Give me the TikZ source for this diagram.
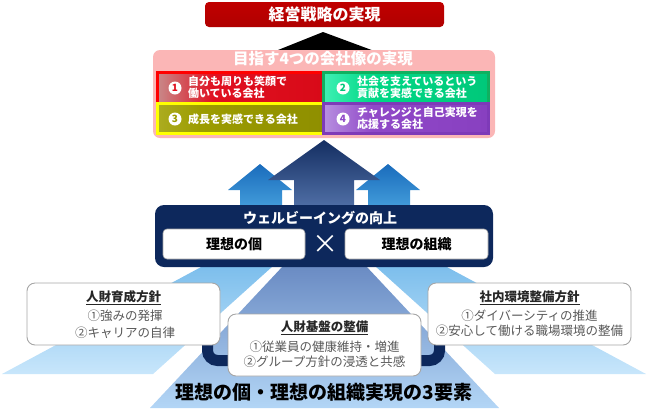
\documentclass[tikz,border=0pt]{standalone}
\usepackage{fontspec}
\setmainfont{Noto Sans CJK JP}
\usetikzlibrary{calc}
\definecolor{topred}{HTML}{C00000}
\definecolor{topredB}{HTML}{B00000}
\definecolor{pinkbg}{HTML}{FBB6B6}
\definecolor{navy}{HTML}{0D285C}
\definecolor{bigTop}{HTML}{142E62}
\definecolor{bigBot}{HTML}{5777AE}
\definecolor{smTop}{HTML}{1A6CBC}
\definecolor{smBot}{HTML}{4AA5E0}
\definecolor{sideTop}{HTML}{7CBEEC}
\definecolor{sideBot}{HTML}{C8E6FB}
\definecolor{midTop}{HTML}{6A8BC3}
\definecolor{midBot}{HTML}{B3D6F6}
\definecolor{c1}{HTML}{E01020}
\definecolor{c1l}{HTML}{C88A8A}
\definecolor{c1r}{HTML}{D80A18}
\definecolor{c1b}{HTML}{FF0000}
\definecolor{c2}{HTML}{00D886}
\definecolor{c2l}{HTML}{40F0B4}
\definecolor{c2r}{HTML}{00C87A}
\definecolor{c2b}{HTML}{10B060}
\definecolor{c3}{HTML}{9C9C00}
\definecolor{c3l}{HTML}{ACAC20}
\definecolor{c3r}{HTML}{8F8F00}
\definecolor{c3b}{HTML}{FFFF00}
\definecolor{c4}{HTML}{9048C8}
\definecolor{c4l}{HTML}{B890E0}
\definecolor{c4r}{HTML}{8840C0}
\definecolor{c4b}{HTML}{7E3AB8}
\definecolor{graytext}{HTML}{595959}
\definecolor{boxline}{HTML}{A6A6A6}
\pgfdeclarehorizontalshading{cellA}{100bp}{color(0bp)=(c1l); color(25bp)=(c1l); color(42bp)=(c1); color(75bp)=(c1r); color(100bp)=(c1r)}
\pgfdeclarehorizontalshading{cellB}{100bp}{color(0bp)=(c2l); color(25bp)=(c2l); color(40bp)=(c2); color(75bp)=(c2r); color(100bp)=(c2r)}
\pgfdeclarehorizontalshading{cellC}{100bp}{color(0bp)=(c3l); color(25bp)=(c3l); color(38bp)=(c3); color(75bp)=(c3r); color(100bp)=(c3r)}
\pgfdeclarehorizontalshading{cellD}{100bp}{color(0bp)=(c4l); color(25bp)=(c4l); color(40bp)=(c4); color(75bp)=(c4r); color(100bp)=(c4r)}
\begin{document}
\begin{tikzpicture}[x=1pt,y=-1pt,
  every node/.style={inner sep=0pt, outer sep=0pt},
  celltxt/.style={font=\bfseries\fontsize{11}{12.5}\selectfont, text=white, align=left, anchor=west},
  numc/.style={circle, fill=white, minimum size=13pt, font=\bfseries\fontsize{10}{10}\selectfont},
  cellbox/.style={rectangle, line width=3pt, minimum height=#1, shade},
  whitebox/.style={rectangle, rounded corners=8pt, fill=white, draw=boxline, line width=0.9pt, minimum height=62pt},
  idealbox/.style={rectangle, rounded corners=4pt, fill=white, draw=boxline, line width=0.6pt, minimum width=142pt, minimum height=30pt, font=\bfseries\fontsize{14}{14}\selectfont},
  boxtitle/.style={font=\bfseries\fontsize{12.5}{13}\selectfont, text=black!85},
  boxbody/.style={font=\fontsize{12.5}{#1}\selectfont, text=graytext, align=center},
  ubar/.style={draw=navy, line width=11pt, rounded corners=10pt}
]
\useasboundingbox (0,0) rectangle (648,416);

% ---- beams
\shade[top color=sideTop, bottom color=sideBot] (2,374) -- (153,374) -- (273,266) -- (203,266) -- cycle;
\shade[top color=sideTop, bottom color=sideBot] (646,374) -- (495,374) -- (375,266) -- (445,266) -- cycle;
\shade[top color=midTop, bottom color=midBot] (150,408) -- (283,266) -- (366,266) -- (499,408) -- cycle;

% ---- arrows
\shade[top color=smTop, bottom color=smBot] (260,164) -- (292,190) -- (282,190) -- (282,215) -- (240,215) -- (240,190) -- (228,190) -- cycle;
\shade[top color=smTop, bottom color=smBot] (388,164) -- (420,190) -- (410,190) -- (410,215) -- (368,215) -- (368,190) -- (356,190) -- cycle;
\shade[top color=bigTop, bottom color=bigBot] (324,140) -- (380,180) -- (354,180) -- (354,215) -- (294,215) -- (294,180) -- (268,180) -- cycle;

% ---- well-being box
\node[rectangle, rounded corners=9pt, fill=navy, minimum width=338pt, minimum height=62pt] (wb) at (324,236) {};
\node[font=\bfseries\fontsize{14}{14}\selectfont, text=white] (wbt) at (320,218) {ウェルビーイングの向上};
\node[idealbox] (ko) at (234,244) {理想の個};
\node[idealbox, minimum width=143pt] (so) at (416.5,244) {理想の組織};
\node[text=white, font=\fontsize{26}{26}\selectfont] (cross) at (325,244) {×};

% ---- U bracket
\coordinate (ul) at (207.5,335);
\coordinate (ur) at (439.5,335);
\coordinate (ubl) at (207.5,360.5);
\coordinate (ubr) at (439.5,360.5);
\draw[ubar] (ul) -- (ubl) -- (ubr) -- (ur);

% ---- three element boxes
\node[whitebox, minimum width=193pt] (lbox) at (123.5,314) {};
\node[boxtitle] (lboxt) at (123.5,298) {\underline{人財育成方針}};
\node[boxbody=17pt] (lboxb) at (125,324.5) {①強みの発揮\\②キャリアの自律};

\node[whitebox, minimum width=203pt] (rbox) at (529.5,314) {};
\node[boxtitle] (rboxt) at (529.5,298) {\underline{社内環境整備方針}};
\node[boxbody=15pt] (rboxb) at (529.5,323.5) {①ダイバーシティの推進\\②安心して働ける職場環境の整備};

\node[whitebox, minimum width=193pt] (cbox) at (324.5,345) {};
\node[boxtitle] (cboxt) at (324.5,328) {\underline{人財基盤の整備}};
\node[boxbody=14.5pt] (cboxb) at (324.5,354) {①従業員の健康維持・増進\\②グループ方針の浸透と共感};

% ---- bottom caption
\node[font=\bfseries\fontsize{19}{19}\selectfont, text=black] (cap) at (324,392.5) {理想の個・理想の組織実現の3要素};

% ---- top
\fill[black] (273,52) -- (323,32) -- (377,52) -- cycle;
\node[rectangle, rounded corners=4pt, top color=topred, bottom color=topredB, minimum width=239pt, minimum height=25pt, font=\bfseries\fontsize{16}{16}\selectfont, text=white] (goal) at (324.5,14.5) {経営戦略の実現};

\node[rectangle, rounded corners=7pt, fill=pinkbg, minimum width=342pt, minimum height=88pt] (pink) at (324,94) {};
\node[font=\bfseries\fontsize{15.5}{15.5}\selectfont, text=white] (pinkt) at (323,59) {目指す4つの会社像の実現};

\node[cellbox=31pt, minimum width=166pt, draw=c1b, shading=cellA] (cell1) at (240,87.5) {};
\node[cellbox=31pt, minimum width=165pt, draw=c2b, shading=cellB] (cell2) at (405.5,87.5) {};
\node[cellbox=30pt, minimum width=166pt, draw=c3b, shading=cellC] (cell3) at (240,118) {};
\node[cellbox=30pt, minimum width=165pt, draw=c4b, shading=cellD] (cell4) at (405.5,118) {};

\node[numc, text=c1] (n1) at (175,88) {1};
\node[numc, text=c2r] (n2) at (343,88) {2};
\node[numc, text=c3] (n3) at (175,119) {3};
\node[numc, text=c4] (n4) at (343,119) {4};

\node[celltxt] (t1) at (188,87.5) {自分も周りも笑顔で\\働いている会社};
\node[celltxt] (t2) at (357,87.5) {社会を支えているという\\貢献を実感できる会社};
\node[celltxt] (t3) at (188,119) {成長を実感できる会社};
\node[celltxt] (t4) at (357,118.5) {チャレンジと自己実現を\\応援する会社};
\end{tikzpicture}
\end{document}
